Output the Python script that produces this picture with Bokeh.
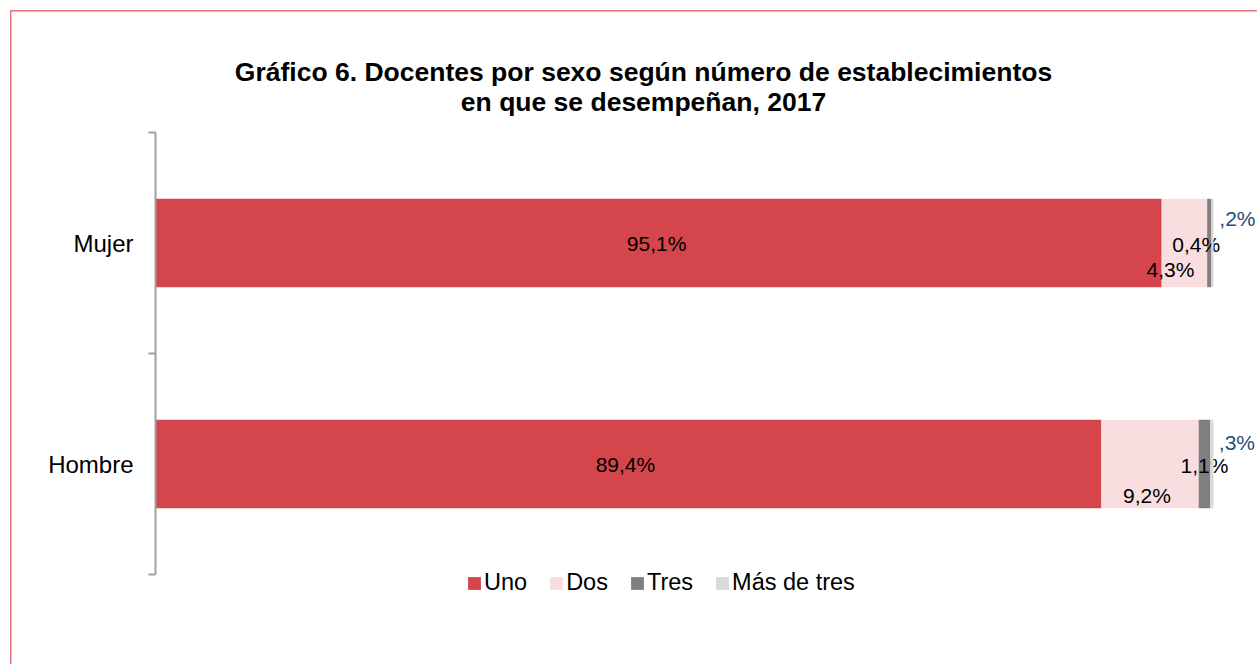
from bokeh.plotting import figure
from bokeh.models import (ColumnDataSource, Range1d, FixedTicker, Legend, LegendItem, Label)
from bokeh.embed import file_html
from bokeh.resources import INLINE
from bokeh.core.properties import value

# ---------------- data ----------------
categories = ["Hombre", "Mujer"]          # bottom to top
series = ["Uno", "Dos", "Tres", "Más de tres"]
uno = [89.4, 95.1]
dos = [9.2, 4.3]
tres = [1.1, 0.4]
mas_de_tres = [0.3, 0.2]
labels_uno = ["89,4%", "95,1%"]
labels_dos = ["9,2%", "4,3%"]
labels_tres = ["1,1%", "0,4%"]
labels_mas = [",3%", ",2%"]
title_lines = ["Gráfico 6. Docentes por sexo según número de establecimientos",
               "en que se desempeñan, 2017"]

values = [uno, dos, tres, mas_de_tres]
label_lists = [labels_uno, labels_dos, labels_tres, labels_mas]
colors = ["#D4454C", "#F9DEDF", "#7F7F7F", "#D9D9D9"]
label_colors = ["#000000", "#000000", "#000000", "#1F4E79"]
# label placement offsets (screen px) per series, per category (Hombre, Mujer)
x_offsets = [[-3, -2], [-3, -14], [0, -13], [25, 25]]
y_offsets = [[0, 0], [31, 26], [1, 1], [-22, -25]]

FONT = "Liberation Sans"
BORDER = "#E8737A"

W, H = 1257, 664
# frame spans the full height; the category band [0, 2] sits at 132..574 px
px_per_unit = 221.0
y_lo = -(H - 574) / px_per_unit
y_hi = 2 + 132 / px_per_unit
x_hi = (W - 155) / 1058.0

p = figure(width=W, height=H, output_backend="svg", toolbar_location=None,
           x_range=Range1d(0, x_hi), y_range=Range1d(y_lo, y_hi),
           x_axis_location=None, min_border_left=155, min_border_right=0,
           min_border_top=0, min_border_bottom=0)
p.outline_line_color = None
p.grid.visible = False
p.background_fill_alpha = 0
p.border_fill_alpha = 0
p.styles = {
    "background": (f"linear-gradient({BORDER}, {BORDER}) 10px 10px / 100% 1.5px no-repeat, "
                   f"linear-gradient({BORDER}, {BORDER}) 10px 10px / 1.5px 100% no-repeat, "
                   "white"),
}

ypos = [i + 0.5 for i in range(len(categories))]
left = [0.0] * len(categories)
renderers = []
for k, name in enumerate(series):
    vals = [v / 100 for v in values[k]]
    right = [l + v for l, v in zip(left, vals)]
    src = ColumnDataSource(dict(y=ypos, left=left, right=right))
    r = p.hbar(y="y", left="left", right="right", height=0.40, source=src,
               fill_color=colors[k], line_color=None)
    renderers.append(r)
    mid = [(l + rr) / 2 for l, rr in zip(left, right)]
    tsrc = ColumnDataSource(dict(x=mid, y=ypos, text=label_lists[k],
                                 xo=x_offsets[k], yo=y_offsets[k]))
    p.text(x="x", y="y", text="text", x_offset="xo", y_offset="yo", source=tsrc,
           text_align="center", text_baseline="middle", text_font=value(FONT),
           text_font_size="21px", text_color=label_colors[k])
    left = right

ax = p.yaxis[0]
ax.bounds = (0, len(categories))
ax.ticker = FixedTicker(ticks=ypos, minor_ticks=list(range(len(categories) + 1)))
ax.major_label_overrides = {y: c for y, c in zip(ypos, categories)}
ax.major_tick_line_color = None
ax.major_tick_out = 0
ax.major_tick_in = 0
ax.minor_tick_line_color = "#A0A0A0"
ax.minor_tick_line_width = 2
ax.minor_tick_out = 7
ax.minor_tick_in = 0
ax.axis_line_color = "#A0A0A0"
ax.axis_line_width = 2
ax.major_label_text_font = FONT
ax.major_label_text_font_size = "24px"
ax.major_label_text_color = "#000000"
ax.major_label_standoff = 15

legend = Legend(items=[LegendItem(label=s, renderers=[r]) for s, r in zip(series, renderers)],
                orientation="horizontal", location=(311, 68),
                glyph_width=16, glyph_height=16, label_standoff=2, spacing=21,
                label_text_font=FONT, label_text_font_size="23.5px",
                label_text_color="#000000", padding=0, margin=0,
                border_line_color=None, background_fill_alpha=0)
p.add_layout(legend, "center")

# title (two centred lines), positions relative to the frame's bottom-left
for line, ybase in zip(title_lines, [593, 563]):
    p.add_layout(Label(x=488, y=ybase, x_units="screen", y_units="screen", text=line,
                       text_align="center", text_baseline="alphabetic",
                       text_font=FONT, text_font_size="26.5px",
                       text_font_style="bold", text_color="#000000"))

open("out.html", "w").write(file_html(p, INLINE))
